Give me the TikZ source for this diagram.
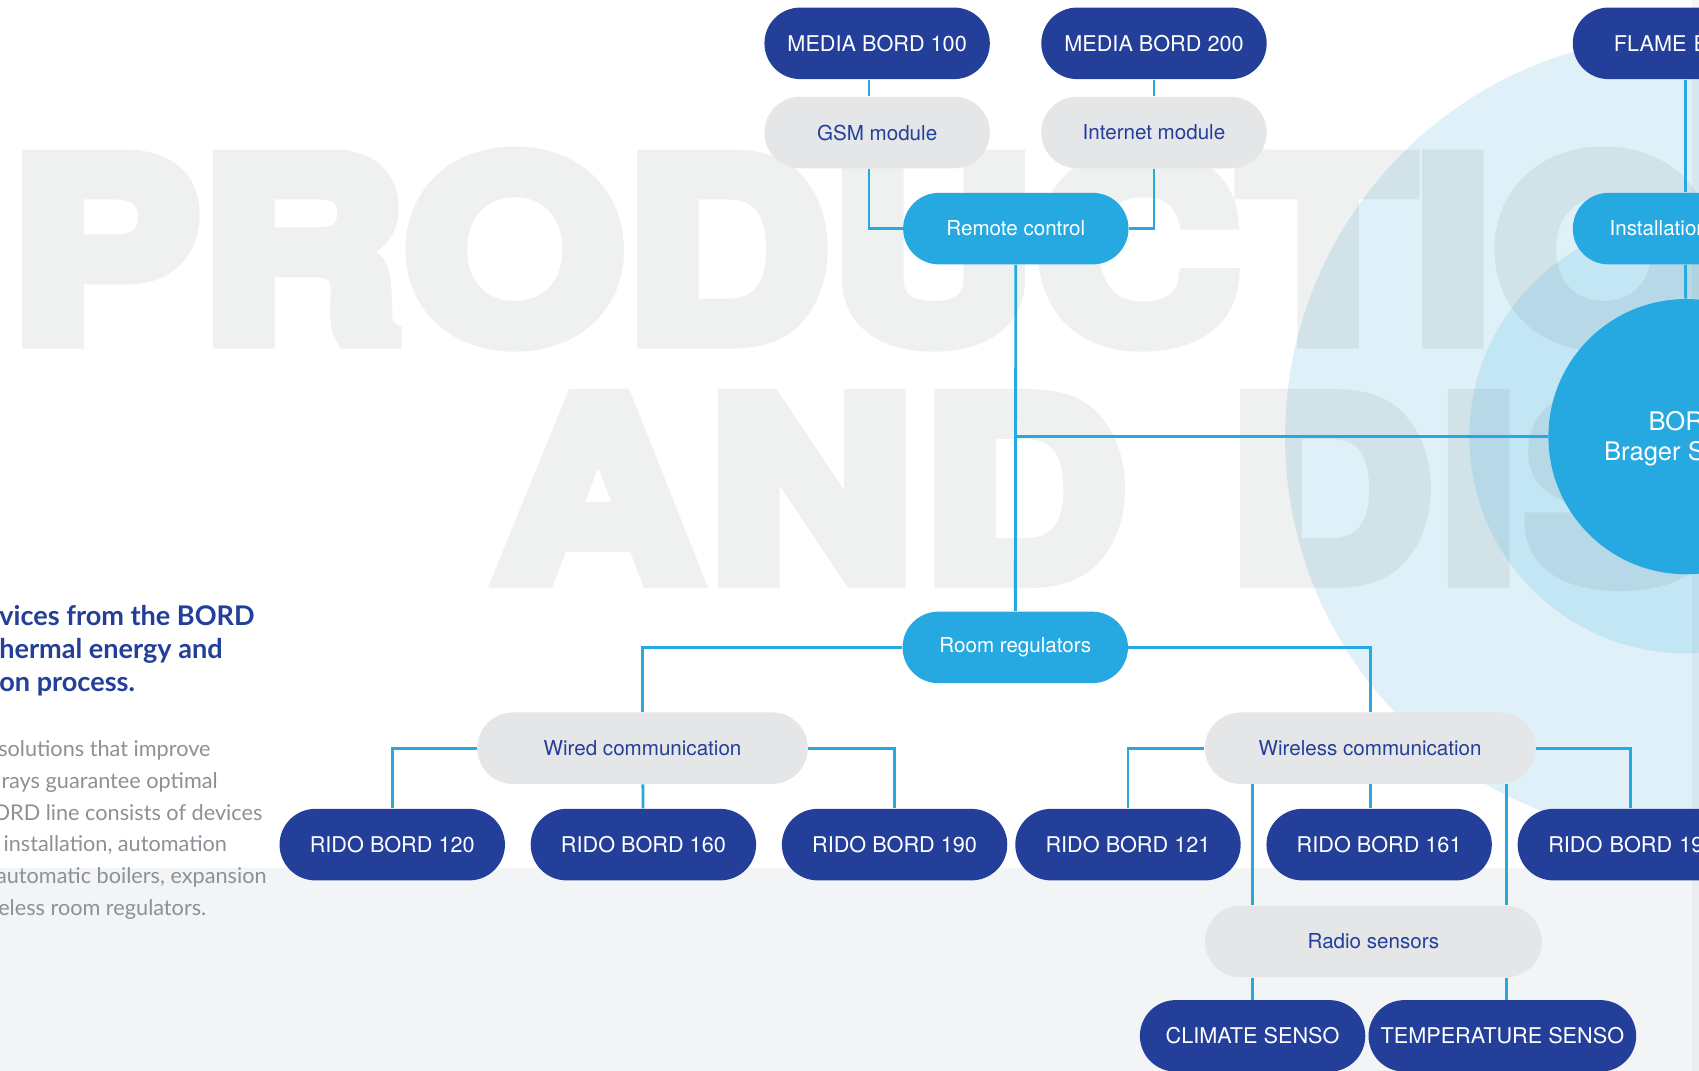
\documentclass[tikz,border=0pt]{standalone}
\usepackage{fontspec}
\setmainfont{TeX Gyre Heros}
\newfontfamily\latofont{Lato}
\newfontfamily\wordfont{TeX Gyre Heros}[BoldFeatures={FakeStretch=1.15,FakeBold=7.7}]
\usetikzlibrary{positioning}
\definecolor{bnavy}{RGB}{35,63,153}
\definecolor{bcyan}{RGB}{38,169,224}
\definecolor{bgrey}{RGB}{229,230,232}
\definecolor{bband}{RGB}{243,244,246}
\definecolor{blight}{RGB}{223,240,248}
\definecolor{bmid}{RGB}{195,230,245}
\definecolor{bpara}{RGB}{139,145,151}
\definecolor{bletter}{RGB}{20,45,35}

\begin{document}
\begin{tikzpicture}[x=0.5pt,y=-0.5pt,
    pill/.style={rectangle, rounded corners=16.5pt, minimum height=33pt,
        minimum width=104pt, inner sep=0pt},
    navy/.style={pill, fill=bnavy, text=white, font=\fontsize{10}{12}\selectfont},
    grey/.style={pill, fill=bgrey, text=bnavy, font=\fontsize{9.5}{12}\selectfont},
    cyan/.style={pill, fill=bcyan, text=white, font=\fontsize{9.5}{12}\selectfont},
    link/.style={draw=bcyan, line width=1.3pt},
    bigword/.style={anchor=base west, inner sep=0pt, text=bletter,
        font=\wordfont\bfseries\fontsize{114}{114}\selectfont},
    bordtext/.style={anchor=base west, inner sep=0pt, text=white,
        font=\fontsize{11.8}{14}\selectfont},
    lead/.style={anchor=base west, inner sep=0pt, text=bnavy,
        font=\latofont\bfseries\fontsize{12.5}{15}\selectfont},
    para/.style={anchor=base west, inner sep=0pt, text=bpara,
        font=\latofont\fontsize{10}{14}\selectfont}]

    \useasboundingbox (0,0) rectangle (1568,988);
    \clip (0,0) rectangle (1568,988);
    \fill[white] (0,0) rectangle (1568,988);
    \fill[bband] (0,801) rectangle (1568,988);
    \fill[blight] (1556,403) circle (370);
    \fill[bmid] (1556,403) circle (200);

    \begin{scope}[transparency group, opacity=0.065]
        \node[bigword] (w1) at (9,313) {PRODUCTIO};
        \node[bigword] (w2) at (456,534) {A\kern4pt N\kern4pt D\hspace{10pt} D\kern3pt I\kern3pt S};
    \end{scope}

    \fill[black, opacity=0.03] (1561.5,0) rectangle (1568,988);

    \node[navy] (m100) at (809.5,40) {MEDIA BORD 100};
    \node[navy] (m200) at (1065,40) {MEDIA BORD 200};
    \node[navy, text width=66pt, align=left] (flame) at (1555.5,40) {FLAME B};
    \node[grey, below=7.75pt of m100] (gsm) {GSM module};
    \node[grey, below=7.75pt of m200] (inet) {Internet module};
    \node[cyan] (rc) at (937.5,211) {Remote control};
    \node[cyan, text width=70pt, align=left] (inst) at (1555.5,211) {Installation};
    \node[circle, fill=bcyan, minimum size=127pt, inner sep=0pt] (bord) at (1556,403) {};
    \node[bordtext] (bt1) at (1521,397) {BOR};
    \node[bordtext] (bt2) at (1480,425) {Brager S};

    \node[cyan] (rr) at (937,597.5) {Room regulators};
    \node[grey, minimum width=152.5pt] (wc) at (593,690.5) {Wired communication};
    \node[grey, minimum width=152.5pt] (wlc) at (1264.5,690.5) {Wireless communication};

    \node[navy] (r120) at (362,779.5) {RIDO BORD 120};
    \node[navy, right=11.5pt of r120] (r160) {RIDO BORD 160};
    \node[navy, right=11.5pt of r160] (r190) {RIDO BORD 190};
    \node[navy] (r121) at (1041,779.5) {RIDO BORD 121};
    \node[navy, right=11.5pt of r121] (r161) {RIDO BORD 161};
    \node[navy, right=11.5pt of r161, text width=75.7pt, align=left] (r19) {RIDO BORD 19};

    \node[grey, minimum width=155.5pt] (radio) at (1267.5,869) {Radio sensors};
    \node[navy] (climate) at (1156,956) {CLIMATE SENSO};
    \node[navy, minimum width=123.5pt] (temp) at (1386.5,956) {TEMPERATURE SENSO};
    \coordinate (tl) at (1390,0);

    \draw[link] ([xshift=-3.75pt]m100.south) -- ([xshift=-3.75pt]gsm.north);
    \draw[link] (m200) -- (inet);
    \draw[link] ([xshift=-3.75pt]gsm.south) |- (rc.west);
    \draw[link] (inet.south) |- (rc.east);
    \draw[link] (flame) -- (inst);
    \draw[link] (inst) -- (bord);
    \draw[link] (rc) -- (rr);
    \draw[link] (rc |- bord) -- (bord.west);
    \draw[link] (rr.west) -| (wc.north);
    \draw[link] (rr.east) -| (wlc.north);
    \draw[link] (wc.west) -| (r120.north);
    \draw[link] (wc) -- (r160);
    \draw[link] (wc.east) -| (r190.north);
    \draw[link] (wlc.west) -| (r121.north);
    \draw[link] (wlc.south) -- (wlc.south |- r161.north);
    \draw[link] (wlc.east) -| (r19.north);
    \draw[link] (climate |- wlc.south) -- (climate |- radio.north);
    \draw[link] (tl |- wlc.south) -- (tl |- radio.north);
    \draw[link] (climate |- radio.south) -- (climate.north);
    \draw[link] (tl |- radio.south) -- (tl |- temp.north);

    \node[lead] (h1) at (-1,577) {vices from the BORD};
    \node[lead] (h2) at (-1,607.5) {hermal energy and};
    \node[lead] (h3) at (-1,638) {on process.};
    \node[para] (p1) at (-2,698.4) {solutions that improve};
    \node[para] (p2) at (1,727.6) {rays guarantee optimal};
    \node[para] (p3) at (-7,756.8) {ORD line consists of devices};
    \node[para] (p4) at (3,786) {installation, automation};
    \node[para] (p5) at (-4,815.2) {automatic boilers, expansion};
    \node[para] (p6) at (-2,844.5) {eless room regulators.};
\end{tikzpicture}
\end{document}
